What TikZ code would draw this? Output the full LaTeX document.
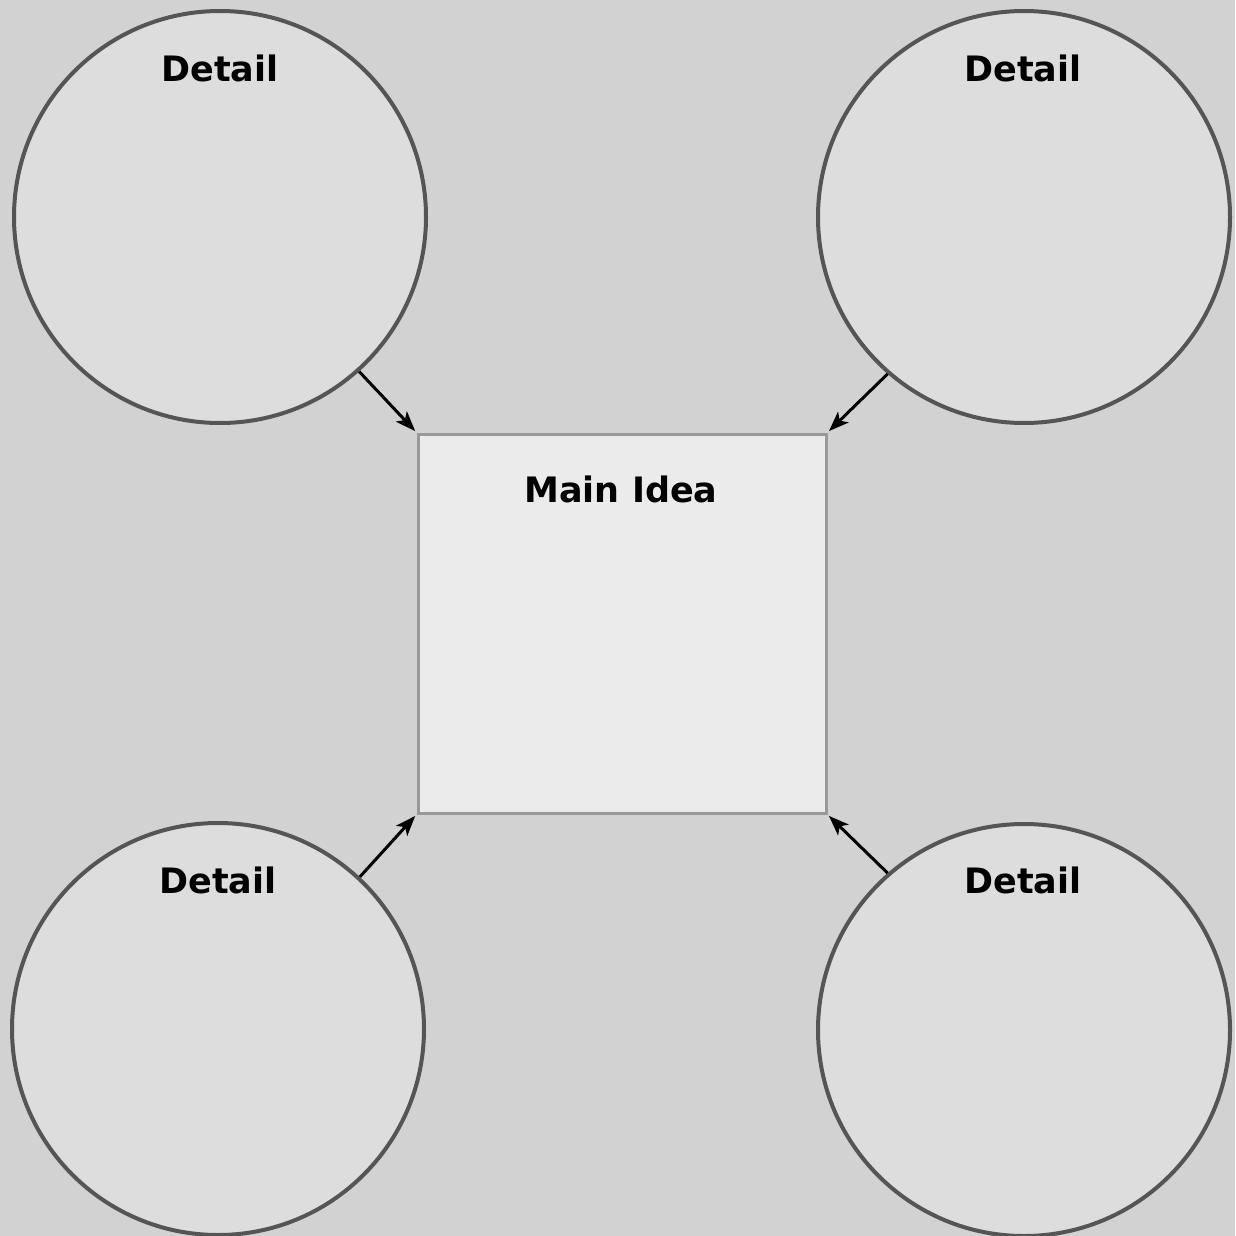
\documentclass[tikz,border=0pt]{standalone}
\usepackage{fontspec}
\setmainfont{DejaVu Sans}
\usetikzlibrary{arrows.meta}
\definecolor{bg}{HTML}{D2D2D2}
\definecolor{circfill}{HTML}{DDDDDD}
\definecolor{circline}{HTML}{555555}
\definecolor{boxfill}{HTML}{EBEBEB}
\definecolor{boxline}{HTML}{999999}
\tikzset{
  detail/.style={circle, draw=circline, fill=circfill, line width=4pt, minimum size=412pt, inner sep=0pt},
  mainbox/.style={rectangle, draw=boxline, fill=boxfill, line width=3pt, minimum width=408pt, minimum height=379pt, inner sep=0pt},
  lbl/.style={anchor=base, font=\fontsize{35}{40}\selectfont\bfseries},
  conn/.style={-{Stealth[length=20pt,width=15pt,inset=5pt]}, line width=3pt, black, shorten >=2pt}
}
\begin{document}
\begin{tikzpicture}[x=1pt,y=-1pt]
\fill[bg] (0,0) rectangle (1235,1236);
\useasboundingbox (0,0) rectangle (1235,1236);
\node[detail] (c1) at (220,217) {};
\node[detail] (c2) at (1024,217) {};
\node[detail] (c3) at (218,1029) {};
\node[detail] (c4) at (1024,1030) {};
\node[mainbox] (m) at (622,623.5) {};
\node[lbl] (t1) at (220,82) {Detail};
\node[lbl] (t2) at (1023,82) {Detail};
\node[lbl] (t3) at (218,893) {Detail};
\node[lbl] (t4) at (1023,893) {Detail};
\node[lbl] (tm) at (621,502) {Main Idea};
\draw[conn] (c1.-48.3) -- (m.north west);
\draw[conn] (c2.-131.4) -- (m.north east);
\draw[conn] (c3.47.7) -- (m.south west);
\draw[conn] (c4.131.7) -- (m.south east);
\end{tikzpicture}
\end{document}
